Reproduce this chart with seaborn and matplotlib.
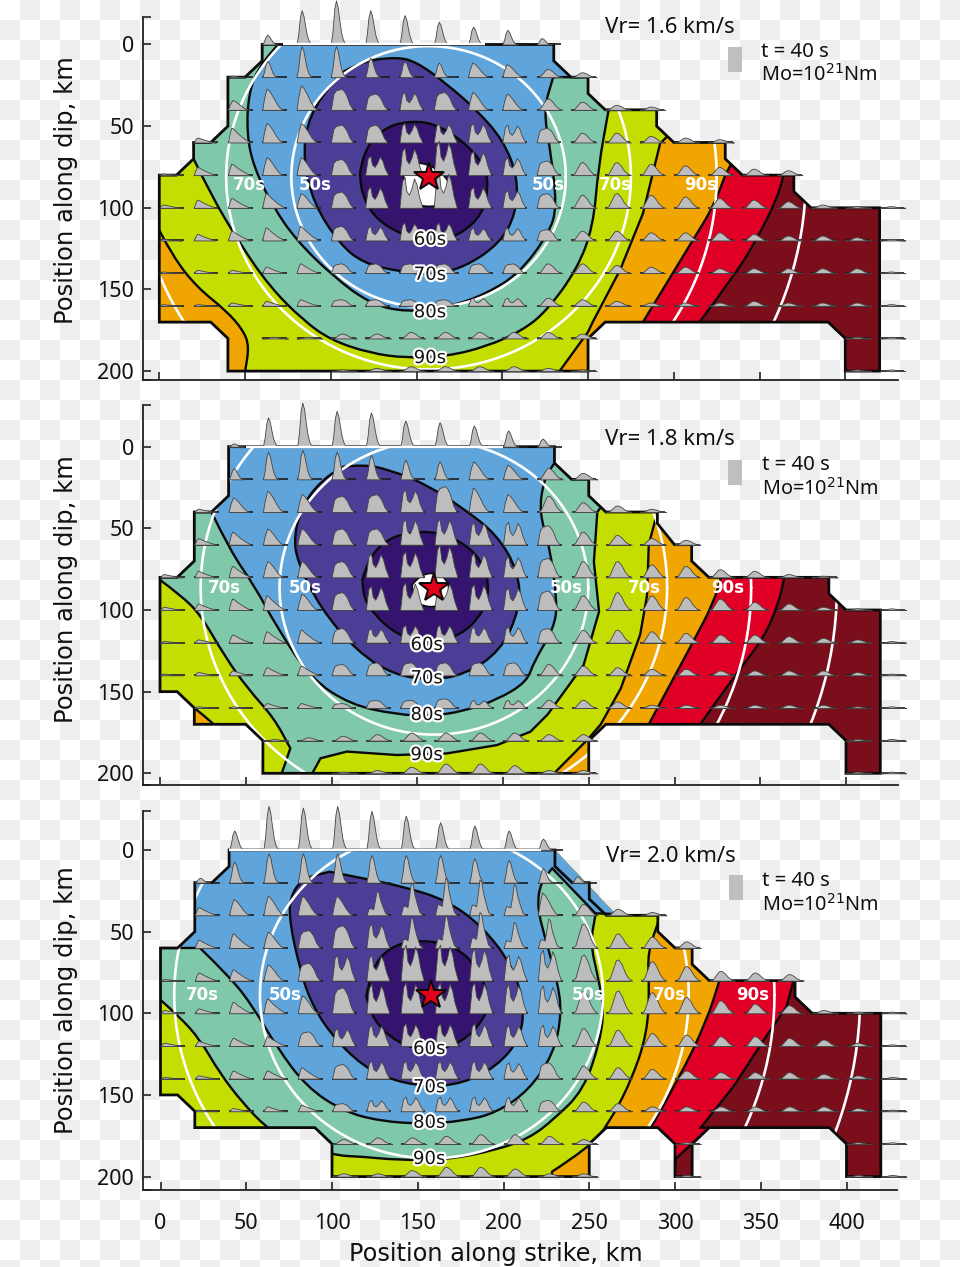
import numpy as np
import matplotlib
matplotlib.use('Agg')
import matplotlib.pyplot as plt
import matplotlib.patheffects as pe
from matplotlib.path import Path
from matplotlib.patches import PathPatch, Polygon, Rectangle
import seaborn as sns

sns.set_theme(style='ticks')
plt.rcParams['font.family'] = ['Noto Sans', 'DejaVu Sans']

# zone colours, slowest (base) first
zone_colors = ['#7a0e1a', '#e10025', '#f0a500', '#c3de00', '#7fc8a9', '#5fa5dc', '#4a3e97', '#35146f']

# fault outlines, km
fault_1 = [(60,0),(230,0),(230,10),(240,20),(250,20),(250,30),(260,40),(290,40),(290,50),(300,60),(330,60),(330,70),(340,80),
           (370,80),(370,90),(380,100),(420,100),(420,200),(400,200),(400,180),(390,170),(260,170),(250,180),(250,200),
           (40,200),(40,180),(30,170),(0,170),(0,80),(10,80),(20,70),(20,60),(30,60),(40,50),(40,20),(50,20),(60,10)]
fault_2 = [(40,0),(230,0),(230,10),(240,20),(250,20),(250,30),(260,40),(290,40),(290,47),(300,60),(310,60),(310,70),(320,80),
           (390,80),(390,90),(400,100),(420,100),(420,200),(400,200),(400,180),(390,170),(260,170),(250,180),(250,200),
           (60,200),(60,180),(50,170),(20,170),(20,160),(10,150),(0,150),(0,80),(10,80),(20,70),(20,40),(30,40),(40,30)]
fault_3 = [(40,0),(230,0),(266,40),(290,40),(290,50),(300,60),(310,60),(310,70),(320,80),(370,80),(370,90),(380,100),
           (420,100),(420,200),(400,200),(400,180),(390,170),(320,170),(310,180),(310,200),(300,200),(300,180),(290,170),
           (260,170),(250,180),(250,200),(100,200),(100,180),(90,170),(20,170),(20,160),(10,150),(0,150),(0,60),(10,60),
           (20,50),(20,20),(30,20),(40,10)]
# black edge of panel 3 leaves the blue sliver at its upper right open
edge_3 = [(40,0),(230,0),(230,10),(240,20),(250,20),(250,30),(260,40),(290,40),(290,50),(300,60),(310,60),(310,70),(320,80),(370,80),(370,90),(380,100),
          (420,100),(420,200),(400,200),(400,180),(390,170),(320,170),(310,180),(310,200),(300,200),(300,180),(290,170),
          (260,170),(250,180),(250,200),(100,200),(100,180),(90,170),(20,170),(20,160),(10,150),(0,150),(0,60),(10,60),
          (20,50),(20,20),(30,20),(40,10)]

# rupture-time contours: (curve, straight closure outside the fault)
zones_1 = [
    ([(315,170),(335,142),(348,120),(360,95),(364,80)], [(375,70),(375,-40),(-40,-40),(-40,240),(315,240)]),
    ([(282,170),(311,120),(323,99.5),(330,80)], [(335,70),(335,-40),(-40,-40),(-40,240),(282,240)]),
    ([(0,113.8),(8,130),(21.8,148.5),(39,163),(49,175),(52.4,185),(50,200),(49,210)],
     [(49,240),(233,240),(233.7,199.6),(250,176),(252.7,170),(268.7,138),(282,103.5),(292,60.7),(302,50),(302,-40),(-40,-40),(-40,113.8)]),
    ([(20,70),(29.5,91),(47,122),(64.5,148.5),(84,169),(100,181),(122.8,189),(144,192),(167.4,191),(190.8,185),(212,175),
      (226,163),(243.4,138),(253,111.7),(256,75),(262,40)], [(266,30),(266,-40),(10,-40),(10,70)]),
    ([(72,-3),(58.7,11.6),(52,30),(51,54.5),(55,75),(66.4,99.5),(80,120),(101.4,142),(122.8,158.7),(144,164),(169.4,160.7),
      (190.8,152.6),(210,140),(227,116),(232,99.5),(228,64.7),(224,40),(229.7,20)], [(245,20),(250,-40),(72,-40)]),
    ([(107,17),(117,10.6),(138,7.6),(150,10.6),(167.4,24),(185,40),(200.5,58.6),(209,81),(208,103.5),(198.5,122),(177,137),
      (158,141),(140,139),(119,134),(105,122),(90,97.4),(84,71),(86,48.4),(95.6,30),(107,17)], []),
    ([(117,79),(119,65),(130.5,51.5),(144,47),(160,48),(177,59),(189,73),(192,85),(189,103.5),(175,117),(158,121),(140,116),
      (125,105.6),(118,91),(117,79)], []),
]
zones_2 = [
    ([(315,170),(336.7,137.8),(352.2,117),(361,95),(364,80)], [(375,70),(375,-40),(-40,-40),(-40,240),(315,240)]),
    ([(285,170),(311,119.4),(323,95),(327,80)], [(332,70),(332,-40),(-40,-40),(-40,240),(285,240)]),
    ([(20,160),(32,170),(35,175)], [(35,240),(225,240),(229.8,200),(250,178.6),(257,170),(268.7,148),(280,115),(284,91),(285,60),
      (289,44),(300,30),(300,-40),(-40,-40),(-40,160)]),
    ([(0,81.6),(12,90.8),(23.7,103),(37.3,127.6),(51,148),(66.4,166),(76,184.7)], [(71,200),(71,240),(88.8,240),(88.8,200),(93.6,190.8),
      (109,186.7),(138,188.8),(167.4,187.8),(196.6,182.7),(216,174.5),(226,164),(247,133.7),(256,101),(253,70.4),(255,40),(262,30),
      (262,-40),(-40,-40),(-40,81.6)]),
    ([(30,40),(41,64),(54.8,84.7),(68.4,111),(87.8,141.8),(111,158),(138,164),(158,165),(177,162),(196.6,155),(214,144),(218,131.6),
      (229.8,111),(231.7,95),(227,60),(221,40),(224,19.4),(230,10)], [(240,5),(240,-40),(-40,-40),(-40,40)]),
    ([(107,12.2),(119,10.8),(134,14.3),(154,22.4),(177,37.8),(196.6,54),(209,76.5),(210,99),(198.5,125.5),(177,139.8),(158,142.9),
      (136.4,139.8),(115,125.5),(93.6,99),(80,70.4),(78,54),(84,33.7),(95.6,19.4),(107,12.2)], []),
    ([(118,81.6),(121,70),(130.5,58),(144,52.4),(161.6,52),(179,60),(189,72.6),(192,86.7),(189,101),(175,116.3),(154,120.4),(138,115),
      (125,103),(119,92.9),(118,81.6)], []),
]
zones_3 = [
    ([(315,170)], [(320,170),(300.5,189),(295,240),(-40,240),(-40,-40),(372,-40),(372,75),(369,80.6),(365,96),(352,116),(334,145)]),
    ([(286,170),(303,138.8),(318.7,104),(325.7,80.6)], [(330,70),(330,-40),(-40,-40),(-40,240),(286,240)]),
    ([(228.3,197),(250.7,181.6),(261,168),(274,142.6),(284,112),(285,81.6),(284,63),(290.6,43)], [(300,30),(300,-40),(-40,-40),(-40,240),(228,240)]),
    ([(0,91.8),(11,102),(23,116),(34.6,136.7),(48,155),(61.8,170),(70,175),(100,187),(118,187.8),(137.5,189.8),(166.7,189.8),
      (195.8,183.7),(215,176.5),(229.3,165),(246.8,147),(256.6,116),(258.5,96),(254.6,75.5),(250.7,57),(253.6,39.8)],
     [(258,-40),(-40,-40),(-40,91.8)]),
    ([(23,60),(40.4,77.6),(54,96),(67.6,120.4),(85,145),(106.5,160),(127.8,166),(153,167.8),(176.4,166),(195.8,161),(215,147),
      (229.3,124.5),(234,100),(231.3,79.6),(224.5,55),(219.6,34.7),(221.5,20.4),(228.4,11.2)],
     [(253.6,38.8),(275,39.5),(275,-40),(-40,-40),(-40,60)]),
    ([(98.7,13.3),(118,17.3),(141.4,22.4),(166.7,30.6),(188,47),(205.5,71.4),(212.3,96),(209.4,116.3),(195.8,132.7),(176.4,142.9),
      (157,144.9),(137.5,141.8),(118,132.7),(98.7,112.2),(87,91.8),(81,71.4),(75.4,44.9),(75.4,28.6),(83.1,17.3),(98.7,13.3)], []),
    ([(120,89.8),(123,71.4),(135.6,58),(153,55),(172.5,59),(186,73.5),(191,89.8),(190,102),(176,118),(157,123.5),(137.5,118),
      (124,104),(120,89.8)], []),
]
white_1 = [(141,75),(151,70),(169,81),(170,95),(158,100.5),(142,95.4),(143,81)]
white_2 = [(147,84.7),(152,77.6),(163.6,77.6),(169,84.7),(167.5,95),(158,99),(148,95)]

# waveform peak heights (km on the dip axis), rows y=0..200, columns x=0..420, step 20 km
heights_1 = [
    [0,0,0,6,21,27,21,18,14,11,9,4,0,0,0,0,0,0,0,0,0,0],
    [0,0,1,10,19,19,12,10,9,9,8,5,3,0,0,0,0,0,0,0,0,0],
    [0,0,6,13,15,13,10,11,11,11,10,7,5,3,2,0,0,0,0,0,0,0],
    [0,3,9,12,12,11,11,12,12,12,11,9,6,6,4,3,2,0,0,0,0,0],
    [1,5,7,11,11,10,12,17,21,15,11,9,8,8,7,6,5,4,3,0,0,0],
    [2,5,6,9,9,10,13,19,22,13,11,9,8,9,8,7,6,5,4,2,1,1],
    [1,4,6,8,9,9,9,11,11,8,8,7,6,6,5,5,5,4,3,3,2,1],
    [1,2,2,4,6,6,6,6,6,6,6,6,6,5,4,4,3,3,3,3,3,1],
    [1,1,2,3,4,4,4,4,4,5,5,5,4,3,2,2,2,3,2,2,2,1],
    [0,0,0,1,1,3,3,4,4,4,4,4,3,0,0,0,0,0,0,0,1,1],
    [0,0,0,0,0,1,2,3,3,3,3,2,1,0,0,0,0,0,0,0,1,1],
]
heights_2 = [
    [0,0,2,18,27,22,21,16,15,13,10,5,0,0,0,0,0,0,0,0,0,0],
    [0,0,7,17,18,17,15,12,11,11,9,7,4,0,0,0,0,0,0,0,0,0],
    [0,2,9,13,11,10,11,14,16,15,11,10,6,4,2,0,0,0,0,0,0,0],
    [0,4,8,10,10,10,10,16,16,14,14,12,8,6,4,3,0,0,0,0,0,0],
    [2,4,7,10,10,10,15,16,20,15,13,12,10,10,8,7,5,4,2,1,0,0],
    [2,4,7,9,10,11,15,17,17,16,14,12,9,11,9,8,7,5,4,2,1,1],
    [1,2,5,7,8,9,9,11,11,10,10,9,8,8,7,6,5,5,4,3,2,1],
    [1,2,3,5,6,7,8,8,8,8,8,7,6,5,4,4,3,3,3,3,2,1],
    [0,1,1,3,3,3,5,5,6,5,5,5,5,4,2,2,2,2,2,2,1,1],
    [0,0,0,1,2,3,4,5,5,5,5,4,4,0,0,0,0,0,0,0,1,1],
    [0,0,0,0,0,1,2,4,6,6,5,2,2,0,0,0,0,0,0,0,1,1],
]
heights_3 = [
    [0,0,12,27,26,27,24,21,17,15,12,7,0,0,0,0,0,0,0,0,0,0],
    [0,3,13,18,18,18,17,17,17,15,14,9,4,0,0,0,0,0,0,0,0,0],
    [0,5,10,12,12,12,15,20,23,22,19,14,7,4,2,0,0,0,0,0,0,0],
    [0,5,9,10,11,14,15,19,20,22,16,18,15,9,7,4,0,0,0,0,0,0],
    [1,5,7,10,11,16,16,22,22,20,16,19,16,13,12,9,6,5,4,0,0,0],
    [2,3,7,9,11,16,18,19,19,19,18,17,14,14,13,10,8,6,5,2,1,1],
    [2,3,5,6,9,11,13,14,14,14,13,13,11,10,8,7,6,6,5,4,2,1],
    [1,2,5,5,7,9,11,11,11,11,10,10,8,7,6,5,4,4,4,3,2,1],
    [0,1,2,3,4,5,7,9,9,9,9,7,6,5,3,3,3,3,3,3,2,1],
    [0,0,0,0,0,3,4,4,5,6,6,5,3,0,0,1,0,0,0,0,1,1],
    [0,0,0,0,0,2,2,4,6,6,5,2,2,0,0,1,0,0,0,0,1,1],
]
# waveform type at every node
shapes_12 = [
    'ssssssssssssssssssssss',
    'ssssssssshhnnnnnnnnnnn',
    'tthhhffmfhhnnnnnnnnnnn',
    'ttthhffmmmmfnnnnnnnnnn',
    'ttthhfmmmmmfnnnnnnnnnn',
    'tttthfmmmmmfnnnnnnnnnn',
    'tttttfmmmmmfnnnnnnnnnn',
    'tttttffffffnnnnnnnnnnn',
    'tttttffffmmnnnnnnnnnnn',
    'nnnnnnnnnnnnnnnnnnnnnn',
    'nnnnnnnnnnnnnnnnnnnnnn',
]
shapes_3 = [
    'ssssssssssssssssssssss',
    'ssssssssssssssnnnnnnnn',
    'tthhhhppppphnnnnnnnnnn',
    'ttthffmpppppnnnnnnnnnn',
    'ttthfmmmmmmmnnnnnnnnnn',
    'tttthfmmmmmmnnnnnnnnnn',
    'ttttfmmmmmmmnnnnnnnnnn',
    'tttttfmmmmmfnnnnnnnnnn',
    'tttttfmmmmmfnnnnnnnnnn',
    'nnnnnnnnnnnnnnnnnnnnnn',
    'nnnnnnnnnnnnnnnnnnnnnn',
]
wave_x = {'s': [0,1,2,3,4,5,6,7,8,9], 'h': [0,1,2.5,4,6,8,10,12], 'f': [0,1.5,3,4.5,6,7.5,9,11,13],
          'm': [0,1.5,3,4,5.5,7,8.5,10,11.5,13.5], 'n': [0,2,4,5.5,7,9,11,13,15], 't': [0,1,2,3,5,7,9,11,13],
          'p': [0,1.5,3,4,5,6,7,8,9.5,11,13]}
wave_y = {'s': [0,.3,.8,1,.85,.55,.28,.12,.04,0], 'h': [0,.5,1,.9,.65,.35,.12,0], 'f': [0,.75,.92,.95,1,.9,.7,.25,0],
          'm': [0,.85,1,.55,.42,.62,.95,.75,.35,0], 'n': [0,.12,.6,.95,1,.75,.35,.1,0], 't': [0,.6,1,.95,.7,.5,.3,.15,0],
          'p': [0,.3,.28,.25,.6,1,.95,.65,.35,.1,0]}
rows = [0,20,40,60,80,100,120,140,160,180,200]
cols = [0,20,40,60,80,100,120,140,160,180,200,220,240,260,280,300,320,340,360,380,400,420]

# one entry per panel
vr_labels = ['Vr= 1.6 km/s', 'Vr= 1.8 km/s', 'Vr= 2.0 km/s']
faults = [fault_1, fault_2, fault_3]
edges = [fault_1, fault_2, edge_3]
zones = [zones_1, zones_2, zones_3]
whites = [white_1, white_2, None]
heights = [heights_1, heights_2, heights_3]
shapes = [shapes_12, shapes_12, shapes_3]
stars = [(157,81), (159.7,86.3), (158,88.8)]
radii = [[80,118,168,220], [90,136,185,235], [100,150,200,250]]
top_white = [(72,190), (50,200), (40,222)]
white_x = [[52.4,91,227,266,315.7], [37.3,84.5,236.6,282.6,331], [24.3,72.8,249.4,297,345.5]]
white_y = [85.8, 86.3, 88.8]
white_txt = ['70s','50s','50s','70s','90s']
cont_x = [157.7, 155.4, 156.6]
cont_y = [[119.5,141,164,192], [121.4,141.8,164.3,188.8], [121.8,145.3,167,189.2]]
cont_txt = ['60s','70s','80s','90s']
vr_y = [-10.3, -4.3, 4]
bar_y = [1.5, 8, 15.3]
t_y = [4.6, 11.2, 19]
mo_y = [18.7, 25.9, 33.7]
# pixel calibration: x0, y0, top, bottom, label centre
px_x0 = [159.3, 160, 160.5]
px_y0 = [44.5, 446.7, 850]
px_top = [16.7, 405, 811]
px_bot = [380, 785, 1190]
ylab_c = [0.523, 0.516, 0.501]
W, H = 960, 1267
sx, sy = 1.715, 1.633


def zone_path(curve, closure):
    # curve smoothed through quadratic segments, closure straight
    verts = [curve[0]]
    codes = [Path.MOVETO]
    for i in range(1, len(curve) - 1):
        mid = ((curve[i][0] + curve[i+1][0]) / 2, (curve[i][1] + curve[i+1][1]) / 2)
        verts += [curve[i], mid]
        codes += [Path.CURVE3, Path.CURVE3]
    if len(curve) > 1:
        verts.append(curve[-1])
        codes.append(Path.LINETO)
    for p in closure:
        verts.append(p)
        codes.append(Path.LINETO)
    verts.append(curve[0])
    codes.append(Path.CLOSEPOLY)
    return Path(verts, codes)


fig = plt.figure(figsize=(W / 100, H / 100), dpi=100)

# the flattened transparency checker behind everything
bg = fig.add_axes([0, 0, 1, 1])
checker = np.indices((64, 48)).sum(axis=0) % 2
sns.heatmap(checker, cmap=['#ffffff', '#eeeeee'], cbar=False, xticklabels=False, yticklabels=False, ax=bg)
bg.set_xlim(0, W / 20)
bg.set_ylim(H / 20, 0)

for n in range(3):
    left, right = 143, 897.5
    ax = fig.add_axes([left / W, 1 - px_bot[n] / H, (right - left) / W, (px_bot[n] - px_top[n]) / H])
    ax.patch.set_alpha(0)
    ax.set_xlim((left - px_x0[n]) / sx, (right - px_x0[n]) / sx)
    ytop, ybot = (px_top[n] - px_y0[n]) / sy, (px_bot[n] - px_y0[n]) / sy
    ax.set_ylim(ybot, ytop)

    outline = Polygon(faults[n], closed=True, fc=zone_colors[0], ec='none', zorder=1)
    ax.add_patch(outline)
    for k, (curve, closure) in enumerate(zones[n]):
        p = PathPatch(zone_path(curve, closure), fc=zone_colors[k + 1], ec='#0a0a0a', lw=1.7, zorder=2 + k)
        ax.add_patch(p)
        p.set_clip_path(outline)
    if whites[n] is not None:
        w = PathPatch(zone_path(whites[n] + [whites[n][0]], []), fc='white', ec='#0a0a0a', lw=1.2, zorder=10)
        ax.add_patch(w)

    # constant-time circles
    cx, cy = stars[n]
    th = np.radians(np.arange(0, 361, 2))
    for r in radii[n]:
        line = sns.lineplot(x=cx + r * np.cos(th), y=cy + r * np.sin(th), sort=False, estimator=None, color='white',
                            lw=1.9, ax=ax, zorder=11, legend=False).lines[-1]
        line.set_clip_path(outline)
    ax.add_patch(Polygon(edges[n], closed=True, fc='none', ec='#0a0a0a', lw=2.0, zorder=12, joinstyle='miter'))

    # source time functions
    for i, y in enumerate(rows):
        for j, x in enumerate(cols):
            h = heights[n][i][j]
            if h == 0:
                continue
            s = shapes[n][i][j]
            xs = x + np.array(wave_x[s])
            ys = y - h * np.array(wave_y[s])
            ax.plot([x, x + 14.5], [y, y], color='#1c1c1c', lw=1.2, zorder=13, clip_on=False, solid_capstyle='butt')
            ax.fill_between(xs, y, ys, fc='#bdbdbd', ec='#444444', lw=0.6, zorder=14, clip_on=False)
    ax.plot(top_white[n], [0, 0], color='white', lw=1.7, zorder=14.5, solid_capstyle='butt')

    ax.plot([cx], [cy], marker='*', ms=22, mfc='#e2001a', mec='#0a0a0a', mew=1.4, zorder=16)

    for x, t in zip(white_x[n], white_txt):
        ax.text(x, white_y[n], t, color='white', fontsize=12, fontweight='bold', family='DejaVu Sans',
                ha='center', va='center', zorder=15)
    for y, t in zip(cont_y[n], cont_txt):
        ax.text(cont_x[n], y, t, color='#111111', fontsize=13, family='DejaVu Sans', ha='center', va='center', zorder=15,
                path_effects=[pe.withStroke(linewidth=3.2, foreground='white')])

    ax.text(259.7, vr_y[n], vr_labels[n], fontsize=16, color='#111111', va='center', ha='left', zorder=15)
    ax.add_patch(Rectangle((331.4, bar_y[n]), 8.2, 15.3, fc='#bfbfbf', ec='none', zorder=15))
    ax.text(351, t_y[n], 't = 40 s', fontsize=14.7, color='#111111', va='center', ha='left', zorder=15)
    ax.text(351, mo_y[n], 'Mo=10$^{21}$Nm', fontsize=14.3, color='#111111', va='center', ha='left', zorder=15)

    sns.despine(ax=ax)
    for side in ['left', 'bottom']:
        ax.spines[side].set_linewidth(1.3)
        ax.spines[side].set_color('#222222')
    ax.set_yticks([0, 50, 100, 150, 200])
    ax.set_yticks([ytop, ybot], minor=True)
    ax.set_xticks([0, 50, 100, 150, 200, 250, 300, 350, 400])
    ax.tick_params(axis='y', which='both', direction='in', length=6, width=1.2, color='#222222', pad=6.5,
                   labelsize=15.5, labelcolor='#111111')
    ax.tick_params(axis='x', direction='in', length=6, width=1.2, color='#222222', pad=16.5,
                   labelsize=15.5, labelcolor='#111111')
    if n < 2:
        ax.set_xticklabels([])
    ax.set_ylabel('Position along dip, km', fontsize=17.5, family='DejaVu Sans', color='#111111', va='center')
    ax.yaxis.set_label_coords(-0.102, ylab_c[n])
    ax.grid(False)

ax.set_xlabel('Position along strike, km', fontsize=17.3, family='DejaVu Sans', color='#111111', va='center')
ax.xaxis.set_label_coords(0.4675, -0.169)

fig.savefig('out.png', dpi=100)
